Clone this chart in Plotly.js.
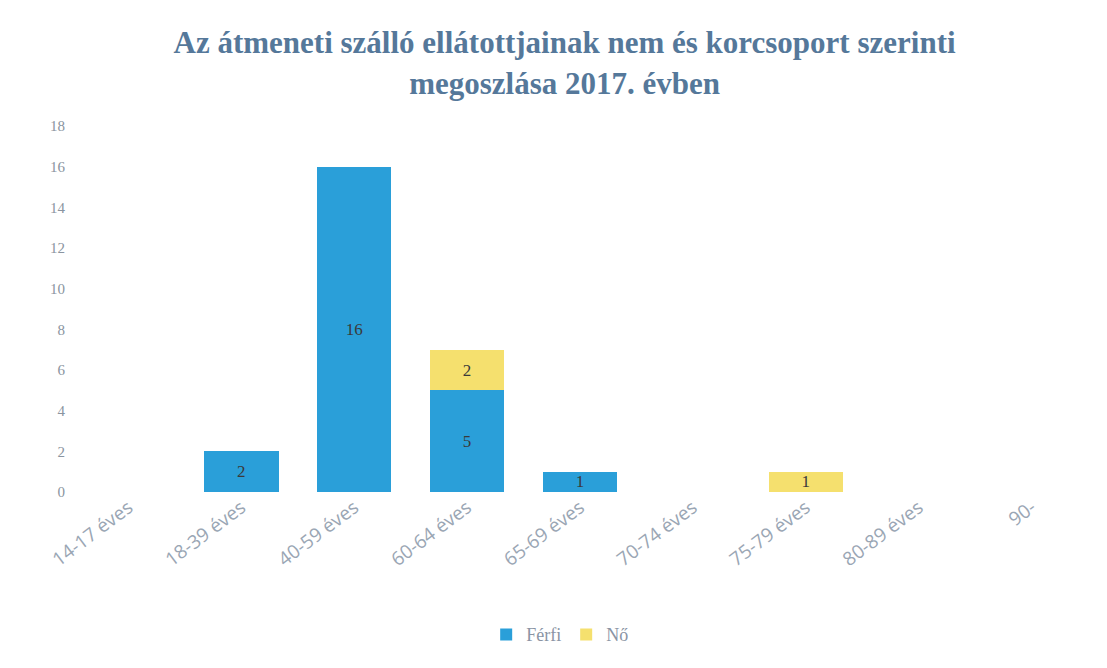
<!DOCTYPE html>
<html>
<head>
<meta charset="utf-8">
<script src="https://cdn.plot.ly/plotly-3.0.1.min.js"></script>
<style>html,body{margin:0;padding:0;background:#fff;}#chart{width:1107px;height:668px;}</style>
</head>
<body>
<div id="chart"></div>
<script>
const categories = ["14-17 éves", "18-39 éves", "40-59 éves", "60-64 éves", "65-69 éves", "70-74 éves", "75-79 éves", "80-89 éves", "90-"];
const ferfi = [0, 2, 16, 5, 1, 0, 0, 0, 0];
const no = [0, 0, 0, 2, 0, 0, 1, 0, 0];
const seriesNames = ["Férfi", "Nő"];
const yTicks = [0, 2, 4, 6, 8, 10, 12, 14, 16, 18];
const chartTitle = "Az átmeneti szálló ellátottjainak nem és korcsoport szerinti<br>megoszlása 2017. évben";

const lbl = v => v.map(x => x > 0 ? String(x) : "");
const common = {
  type: "bar",
  textposition: "inside",
  insidetextanchor: "middle",
  textangle: 0,
  constraintext: "none",
  textfont: {family: "Liberation Serif, serif", size: 17, color: "#3a3a3a"},
  hoverinfo: "x+y+name"
};
const traces = [
  Object.assign({}, common, {x: categories, y: ferfi, name: seriesNames[0], text: lbl(ferfi), marker: {color: "#2a9fd9"}}),
  Object.assign({}, common, {x: categories, y: no, name: seriesNames[1], text: lbl(no), marker: {color: "#f5e06e"}})
];
const layout = {
  width: 1107, height: 668,
  paper_bgcolor: "#ffffff", plot_bgcolor: "#ffffff",
  barmode: "stack",
  bargap: 0.34,
  margin: {l: 72, r: 19, t: 126, b: 176},
  title: {
    text: chartTitle,
    x: 0.51, xanchor: "center", y: 0.92, yanchor: "top",
    font: {family: "Liberation Serif, serif", size: 31, color: "#55789a", weight: "bold"}
  },
  xaxis: {
    type: "category",
    tickangle: -37,
    showgrid: false, showline: false, zeroline: false, ticks: "",
    tickfont: {family: "Open Sans, sans-serif", size: 19, color: "#9aa6b4"}
  },
  yaxis: {
    range: [0, 18],
    tickvals: yTicks,
    showgrid: false, showline: false, zeroline: false, ticks: "",
    ticklabelstandoff: 6,
    tickfont: {family: "Liberation Serif, serif", size: 15, color: "#8a94a0"}
  },
  showlegend: true,
  legend: {
    orientation: "h", traceorder: "normal", x: 0.48, xanchor: "center", y: -0.39, yanchor: "middle",
    font: {family: "Liberation Serif, serif", size: 18, color: "#8a94a4"},
    itemwidth: 30
  }
};
Plotly.newPlot("chart", traces, layout, {displayModeBar: false, staticPlot: true});
</script>
</body>
</html>
